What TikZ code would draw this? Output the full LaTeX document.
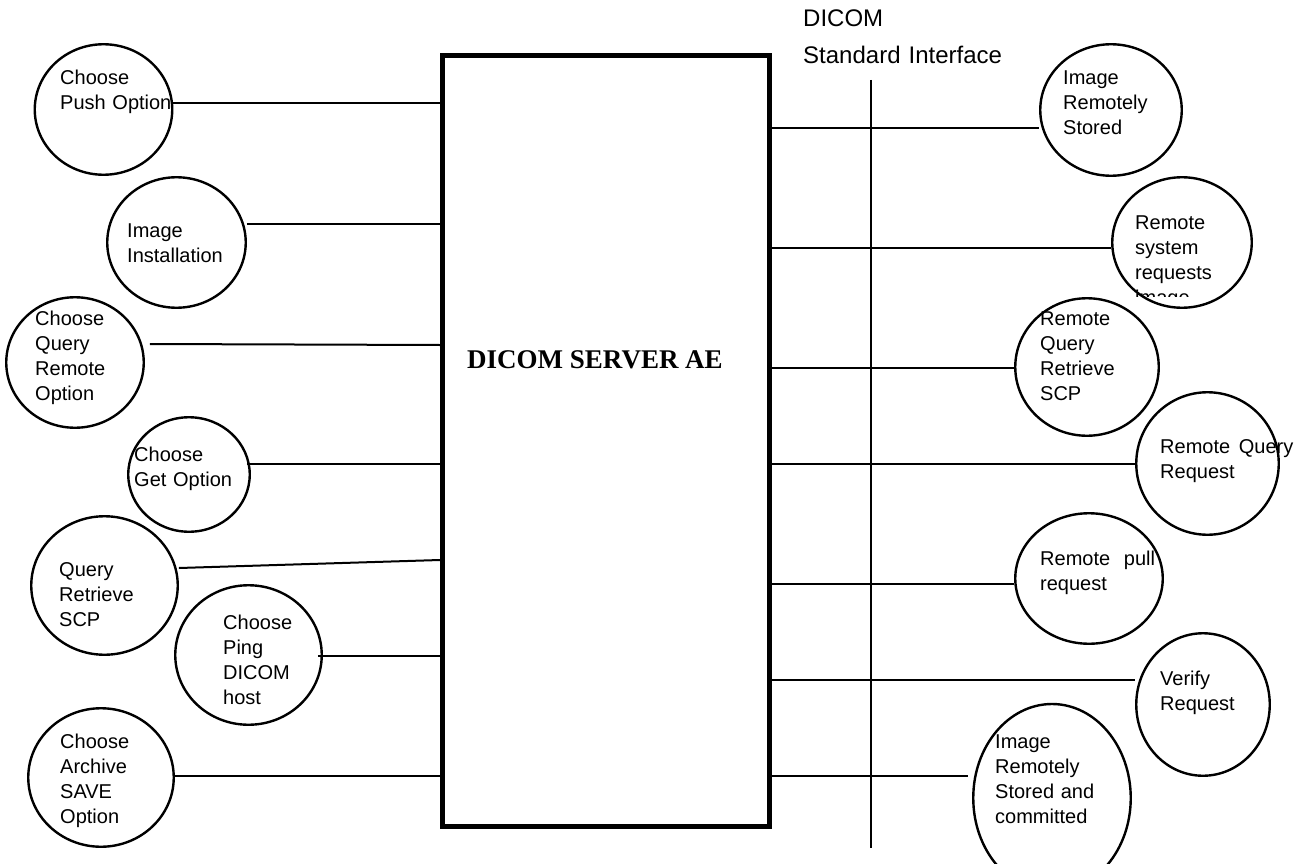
\documentclass[tikz,border=0pt]{standalone}
\usepackage{fontspec}
\setmainfont{Liberation Sans}
\newfontfamily\srvfont{Liberation Serif}
\usetikzlibrary{shapes.geometric}
\begin{document}
\begin{tikzpicture}[x=1pt,y=-1pt,
  bub/.style={draw, ellipse, line width=2.4pt, inner sep=0pt},
  lbl/.style={anchor=base west, inner sep=0pt, text width=170pt, align=left, font=\fontsize{20}{25}\selectfont},
  conn/.style={line width=2pt},
  iface/.style={line width=1.5pt},
]
\clip (0,0) rectangle (1309,864);
\fill[white] (0,0) rectangle (1309,864);

% central box
\node[draw, line width=5pt, minimum width=327pt, minimum height=770.5pt, inner sep=0pt] (box) at (606,441.25) {};
\node[anchor=base west, inner sep=0pt, font=\srvfont\bfseries\fontsize{27}{30}\selectfont] (boxlbl) at (467,368) {DICOM SERVER AE};

% interface label and line
\node[anchor=base west, inner sep=0pt, text width=260pt, align=left, font=\fontsize{24}{37}\selectfont] (ifacelbl) at (803,27) {DICOM\\Standard Interface};
\coordinate (vtop) at (871,80);
\coordinate (vbot) at (871,848);
\draw[iface] (vtop) -- (vbot);

% left bubbles
\node[bub, minimum width=137.5pt, minimum height=130.5pt] (push) at (103.5,109.5) {};
\node[lbl] (pushT) at (60,85) {Choose\\Push Option};
\node[bub, minimum width=138.5pt, minimum height=130.5pt] (inst) at (176.5,242.5) {};
\node[lbl] (instT) at (127,237) {Image\\Installation};
\node[bub, minimum width=137.5pt, minimum height=130.5pt] (qrem) at (75,362.5) {};
\node[lbl] (qremT) at (35,325) {Choose\\Query\\Remote\\Option};
\node[bub, minimum width=121.5pt, minimum height=114.5pt] (get) at (189,474.5) {};
\node[lbl] (getT) at (134,461) {Choose\\Get Option};
\node[bub, minimum width=146.5pt, minimum height=138.5pt] (qrscp) at (104.5,585.5) {};
\node[lbl] (qrscpT) at (59,576) {Query\\Retrieve\\SCP};
\node[bub, minimum width=146.5pt, minimum height=139.5pt] (ping) at (248.5,655) {};
\node[lbl] (pingT) at (223,629) {Choose\\Ping\\DICOM\\host};
\node[bub, minimum width=145.5pt, minimum height=138.5pt] (arch) at (101,777.5) {};
\node[lbl] (archT) at (60,748) {Choose\\Archive\\SAVE\\Option};

% left connectors
\draw[conn] (push.east |- 0,103) -- (box.west |- 0,103);
\draw[conn] (inst.east |- 0,224) -- (box.west |- 0,224);
\draw[conn] ([xshift=5pt]qrem.east |- 0,344) -- (box.west |- 0,345);
\draw[conn] ([xshift=-4pt]get.east |- 0,464) -- (box.west |- 0,464);
\draw[conn] (qrscp.east |- 0,568) -- (box.west |- 0,560);
\draw[conn] ([xshift=-5pt]ping.east |- 0,656) -- (box.west |- 0,656);
\draw[conn] (arch.east |- 0,776) -- (box.west |- 0,776);

% right bubbles
\node[bub, minimum width=141.5pt, minimum height=131.5pt] (irs) at (1111,110) {};
\node[lbl] (irsT) at (1063,85) {Image\\Remotely\\Stored};
\node[bub, minimum width=139.5pt, minimum height=130.5pt] (rsys) at (1182,242.5) {};
\begin{scope}
  \clip (1100,200) rectangle (1260,296);
  \node[lbl] (rsysT) at (1135,229) {Remote\\system\\requests\\image};
\end{scope}
\node[bub, minimum width=143.5pt, minimum height=137.5pt] (rqr) at (1087,367) {};
\node[lbl] (rqrT) at (1040,325) {Remote\\Query\\Retrieve\\SCP};
\node[bub, minimum width=142.5pt, minimum height=142.5pt] (rqreq) at (1207.5,463.5) {};
\node[lbl] (rqreqT) at (1160,453) {Remote\hspace{2pt} Query\\Request};
\node[bub, minimum width=147.5pt, minimum height=130.5pt] (rpull) at (1089,578.5) {};
\node[lbl] (rpullT) at (1040,565) {Remote\hspace{7pt} pull\\request};
\node[bub, minimum width=133.5pt, minimum height=142.5pt] (verify) at (1203,704.5) {};
\node[lbl] (verifyT) at (1160,685) {Verify\\Request};
\node[bub, minimum width=157.5pt, minimum height=188pt] (irsc) at (1052,798) {};
\node[lbl] (irscT) at (995,748) {Image\\Remotely\\Stored and\\committed};

% right connectors
\draw[conn] (box.east |- 0,128) -- (irs.west |- 0,128);
\draw[conn] (box.east |- 0,248) -- (rsys.west |- 0,248);
\draw[conn] (box.east |- 0,368) -- (rqr.west |- 0,368);
\draw[conn] (box.east |- 0,464) -- (rqreq.west |- 0,464);
\draw[conn] (box.east |- 0,584) -- (rpull.west |- 0,584);
\draw[conn] (box.east |- 0,680) -- (verify.west |- 0,680);
\draw[conn] (box.east |- 0,776) -- ([xshift=-4pt]irsc.west |- 0,776);
\end{tikzpicture}
\end{document}
